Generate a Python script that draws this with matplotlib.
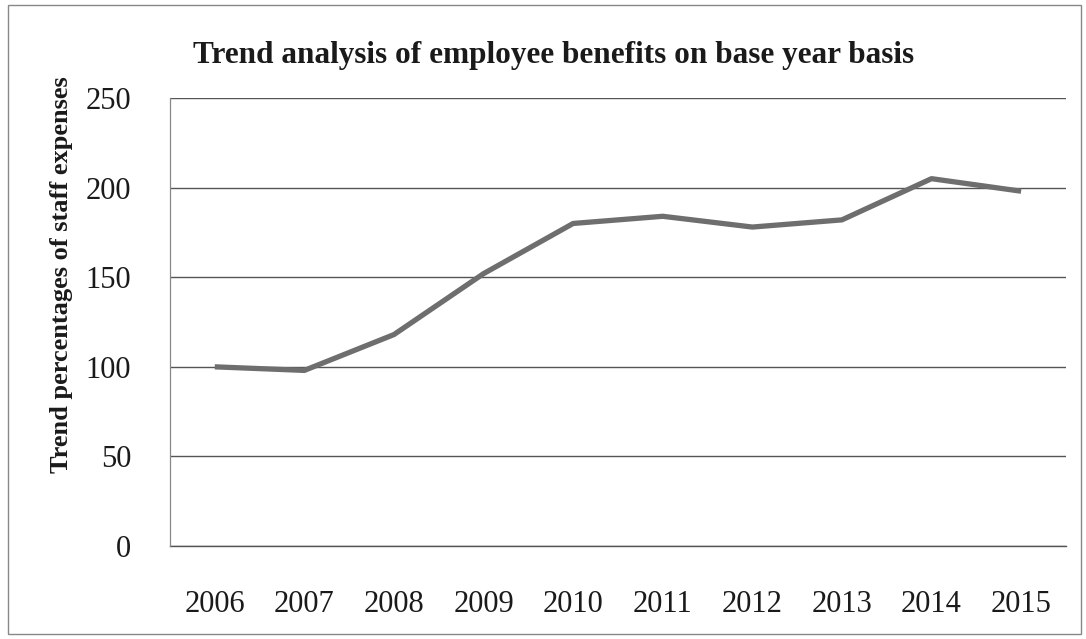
import matplotlib
matplotlib.use("Agg")
import matplotlib.pyplot as plt
from matplotlib.patches import Rectangle

years = ["2006", "2007", "2008", "2009", "2010", "2011", "2012", "2013", "2014", "2015"]
trend = [100, 98, 118, 152, 180, 184, 178, 182, 205, 198]
yticks = [0, 50, 100, 150, 200, 250]

plt.rcParams['font.family'] = ['Liberation Serif', 'DejaVu Serif']

fig = plt.figure(figsize=(10.86, 6.39), dpi=100)
ax = fig.add_axes([0.1565, 0.1455, 0.825, 0.7011])

x = list(range(len(years)))
ax.plot(x, trend, color='#6e6e6e', lw=3.8, solid_capstyle='butt', zorder=3)

ax.set_xlim(-0.5, len(years) - 0.5)
ax.set_ylim(0, 250)
ax.set_yticks(yticks)
ax.set_yticklabels([str(v) for v in yticks], fontsize=22, color='#1a1a1a')
ax.set_xticks(x)
ax.set_xticklabels(years, fontsize=22, color='#1a1a1a')
ax.tick_params(length=0, pad=28)
ax.tick_params(axis='x', pad=32)
ax.yaxis.grid(True, color='#555555', lw=1.0)
ax.axhline(0, color='#555555', lw=1.0, clip_on=False, zorder=1)
ax.set_axisbelow(True)
for s in ['top', 'right', 'bottom']:
    ax.spines[s].set_visible(False)
ax.spines['left'].set_color('#888888')
ax.spines['left'].set_linewidth(0.9)

fig.text(62 / 1086, 1 - 275 / 639, "Trend percentages of staff expenses", rotation=90,
         ha='center', va='center', fontsize=19, fontweight='bold', color='#1a1a1a')

fig.text(554 / 1086, 1 - 55 / 639, "Trend analysis of employee benefits on base year basis",
         ha='center', va='center', fontsize=22.5, fontweight='bold', color='#1a1a1a')

fig.patches.append(Rectangle((0.007, 0.008), 0.988, 0.984, transform=fig.transFigure,
                             fill=False, edgecolor='#888888', lw=1.0))

fig.savefig("out.png", dpi=100)
